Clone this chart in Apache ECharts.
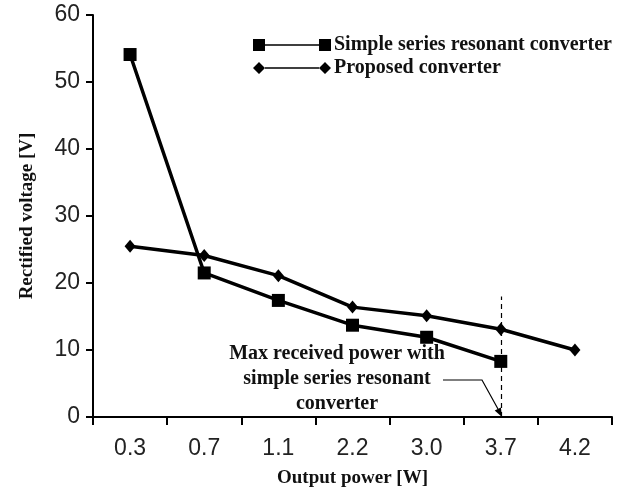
<!DOCTYPE html>
<html>
<head>
<meta charset="utf-8">
<script src="https://cdn.jsdelivr.net/npm/echarts@6/dist/echarts.min.js"></script>
<style>
  html, body { margin: 0; padding: 0; background: #fff; }
  #chart { width: 621px; height: 490px; }
</style>
</head>
<body>
<div id="chart"></div>
<script>
  const powerLabels = ["0.3", "0.7", "1.1", "2.2", "3.0", "3.7", "4.2"];
  const simpleSeries = [54.1, 21.5, 17.4, 13.7, 11.9, 8.3, null];
  const proposed = [25.5, 24.1, 21.1, 16.4, 15.1, 13.1, 10.0];
  const yTicks = { min: 0, max: 60, interval: 10 };
  const maxPowerMark = { category: "3.7", top: 18 };

  const serif = "'Liberation Serif', 'Times New Roman', serif";
  const sans = "'Liberation Sans', Arial, sans-serif";

  // legend icons: marker, thin line, marker
  const squareIcon = "path://M0,0H12V12H0Z M12,5.3H66V6.7H12Z M66,0H78V12H66Z";
  const diamondIcon = "path://M0,6L6,0L12,6L6,12Z M12,5.3H66V6.7H12Z M66,6L72,0L78,6L72,12Z";

  const chart = echarts.init(document.getElementById("chart"));

  chart.setOption({
    backgroundColor: "#fff",
    animation: false,
    grid: { left: 93, right: 9, top: 15, bottom: 73, outerBoundsMode: "none" },
    legend: {
      orient: "vertical",
      left: 248,
      top: 30,
      itemWidth: 78,
      itemHeight: 12,
      itemGap: 3,
      textStyle: { fontFamily: serif, fontWeight: "bold", fontSize: 20, color: "#111", padding: [0, 0, 0, -2] },
      data: [
        { name: "Simple series resonant converter", icon: squareIcon },
        { name: "Proposed converter", icon: diamondIcon },
      ],
    },
    xAxis: {
      type: "category",
      data: powerLabels,
      boundaryGap: true,
      name: "Output power [W]",
      nameLocation: "middle",
      nameGap: 52,
      nameTextStyle: { fontFamily: serif, fontWeight: "bold", fontSize: 19, color: "#111" },
      axisLine: { lineStyle: { color: "#000", width: 2 } },
      axisTick: { show: true, inside: false, length: 8, alignWithLabel: false, lineStyle: { color: "#000", width: 2 } },
      axisLabel: { fontFamily: sans, fontSize: 23, color: "#222", margin: 20 },
      splitLine: { show: false },
    },
    yAxis: {
      type: "value",
      min: yTicks.min,
      max: yTicks.max,
      interval: yTicks.interval,
      name: "Rectified voltage [V]",
      nameLocation: "middle",
      nameRotate: 90,
      nameGap: 56,
      nameTextStyle: { fontFamily: serif, fontWeight: "bold", fontSize: 19, color: "#111" },
      axisLine: { show: true, lineStyle: { color: "#000", width: 2 } },
      axisTick: { show: true, inside: false, length: 7, lineStyle: { color: "#000", width: 2 } },
      axisLabel: { fontFamily: sans, fontSize: 23, color: "#222", margin: 13 },
      splitLine: { show: false },
    },
    series: [
      {
        name: "Simple series resonant converter",
        type: "line",
        data: simpleSeries,
        symbol: "rect",
        symbolSize: 13,
        lineStyle: { color: "#000", width: 3.5 },
        itemStyle: { color: "#000" },
        markLine: {
          silent: true,
          symbol: "none",
          label: { show: false },
          lineStyle: { color: "#000", width: 1.2, type: [5, 4] },
          data: [[
            { coord: [maxPowerMark.category, 0] },
            { coord: [maxPowerMark.category, maxPowerMark.top] },
          ]],
        },
      },
      {
        name: "Proposed converter",
        type: "line",
        data: proposed,
        symbol: "diamond",
        symbolSize: [11, 13],
        lineStyle: { color: "#000", width: 3.5 },
        itemStyle: { color: "#000" },
      },
    ],
    graphic: [
      {
        type: "text",
        x: 337,
        y: 341,
        style: {
          text: "Max received power with\nsimple series resonant\nconverter",
          align: "center",
          font: "bold 20px " + serif,
          lineHeight: 25,
          fill: "#111",
        },
      },
      {
        type: "polyline",
        shape: { points: [[443, 380], [482, 380], [498, 409]] },
        style: { stroke: "#000", lineWidth: 1.2, fill: null },
      },
      {
        type: "polygon",
        shape: { points: [[502, 417], [494.7, 410.6], [500.9, 407.4]] },
        style: { fill: "#000" },
      },
    ],
  });
</script>
</body>
</html>
